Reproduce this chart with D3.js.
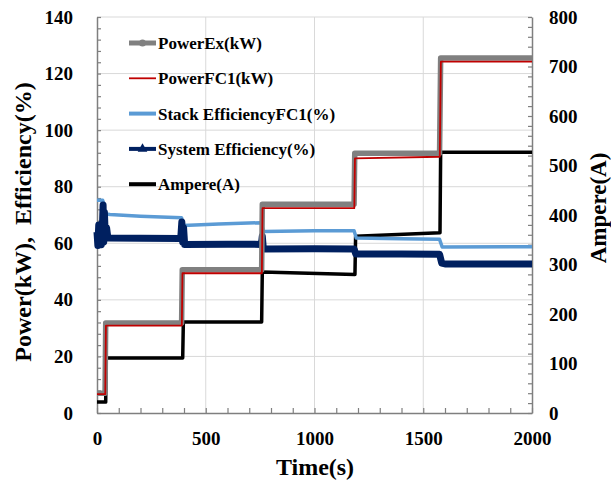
<!DOCTYPE html>
<html>
<head>
<meta charset="utf-8">
<script src="https://cdn.jsdelivr.net/npm/d3@7"></script>
<style>
  body { margin: 0; background: #fff; }
  svg { display: block; }
  text { font-family: "Liberation Serif", "Times New Roman", serif; font-weight: bold; fill: #000; }
</style>
</head>
<body>
<svg id="chart" width="611" height="485"></svg>
<script>
// ---- data: [time (s), value] ----
const powerEx = [[0,7],[37,7],[40,31.8],[389,31.8],[392,50.6],[757,50.6],[760,73.8],[1182,73.8],[1185,91.8],[1575,91.8],[1580,125.5],[2000,125.5]];
const powerFC1 = [[0,6.7],[38,6.7],[41,30.9],[390,30.9],[393,49.4],[758,49.4],[761,72.4],[1183,72.4],[1186,90.0],[1576,90.6],[1581,124.2],[2000,124.2]];
const stackEff = [[0,75.2],[26,75.2],[31,74],[36,70.4],[60,70.2],[200,69.6],[389,69.0],[396,66.3],[560,66.8],[755,67.3],[765,64.2],[1000,64.4],[1182,64.4],[1192,61.9],[1400,61.6],[1575,61.4],[1587,58.7],[2000,58.8]];
const systemEff = [[0,64],[4,59.2],[8,66.5],[12,60.2],[16,65],[20,59.5],[24,63.5],[28,73.5],[31,60.5],[34,71],[38,62.5],[44,65.5],[50,61.9],[200,61.8],[385,61.7],[390,67.5],[394,60.4],[398,65.5],[403,59.6],[600,59.7],[756,59.6],[760,62.5],[765,58.0],[1000,58.1],[1182,58.0],[1190,56.2],[1400,56.2],[1575,56.1],[1585,53.0],[1600,52.7],[2000,52.7]];
const ampere = [[0,22],[40,22],[42,111],[394,111],[397,184],[757,184],[760,285],[1186,280],[1189,357],[1577,364],[1580,527],[2000,527]];

const legendLabels = ["PowerEx(kW)", "PowerFC1(kW)", "Stack EfficiencyFC1(%)", "System Efficiency(%)", "Ampere(A)"];
const xTicks = [0, 500, 1000, 1500, 2000];
const yLeftTicks = [0, 20, 40, 60, 80, 100, 120, 140];
const yRightTicks = [0, 100, 200, 300, 400, 500, 600, 700, 800];

// ---- layout ----
const svg = d3.select("#chart");
const L = 97, R = 532, T = 17, B = 413;
const x = d3.scaleLinear().domain([0, 2000]).range([L, R]);
const yL = d3.scaleLinear().domain([0, 140]).range([B, T]);
const yR = d3.scaleLinear().domain([0, 800]).range([B, T]);

const axisGray = "#7f7f7f";
const gridGray = "#d9d9d9";

// grid
const grid = svg.append("g");
grid.selectAll("line.h").data(yLeftTicks.filter(d => d > 0)).join("line")
  .attr("x1", L).attr("x2", R).attr("y1", d => yL(d)).attr("y2", d => yL(d))
  .attr("stroke", gridGray).attr("stroke-width", 1);
grid.selectAll("line.v").data(xTicks.filter(d => d > 0 && d < 2000)).join("line")
  .attr("x1", d => x(d)).attr("x2", d => x(d)).attr("y1", T).attr("y2", B)
  .attr("stroke", gridGray).attr("stroke-width", 1);

// axes: inward tick marks + separate label axes
function styleAxis(g) {
  g.selectAll(".domain").attr("stroke", axisGray).attr("stroke-width", 1.5);
  g.selectAll(".tick line").attr("stroke", axisGray).attr("stroke-width", 1.2);
}
svg.append("g").attr("transform", `translate(${L},0)`)
  .call(d3.axisLeft(yL).tickValues(d3.range(0, 141, 4)).tickSize(-4).tickSizeOuter(0).tickFormat(""))
  .call(styleAxis);
svg.append("g").attr("transform", `translate(${R},0)`)
  .call(d3.axisRight(yR).tickValues(d3.range(0, 801, 20)).tickSize(-4).tickSizeOuter(0).tickFormat(""))
  .call(styleAxis);
svg.append("g").attr("transform", `translate(0,${B})`)
  .call(d3.axisBottom(x).tickValues(d3.range(0, 2001, 100)).tickSize(-5).tickSizeOuter(0).tickFormat(""))
  .call(styleAxis);

const lblL = svg.append("g").attr("transform", `translate(${L},0)`)
  .call(d3.axisLeft(yL).tickValues(yLeftTicks).tickSize(0).tickPadding(24).tickFormat(d3.format("d")));
const lblR = svg.append("g").attr("transform", `translate(${R},0)`)
  .call(d3.axisRight(yR).tickValues(yRightTicks).tickSize(0).tickPadding(17).tickFormat(d3.format("d")));
const lblB = svg.append("g").attr("transform", `translate(0,${B})`)
  .call(d3.axisBottom(x).tickValues(xTicks).tickSize(0).tickPadding(19).tickFormat(d3.format("d")));
[lblL, lblR, lblB].forEach(g => {
  g.select(".domain").remove();
  g.selectAll("text").attr("font-family", "Liberation Serif, Times New Roman, serif")
    .attr("font-weight", "bold").attr("font-size", 19).attr("fill", "#000");
});

// axis titles
svg.append("text").attr("transform", "translate(31,222) rotate(-90)")
  .attr("text-anchor", "middle").attr("font-size", 24).text("Power(kW),\u00a0\u00a0Efficiency(%)");
svg.append("text").attr("transform", "translate(606,208) rotate(-90)")
  .attr("text-anchor", "middle").attr("font-size", 23).text("Ampere(A)");
svg.append("text").attr("x", 315).attr("y", 475)
  .attr("text-anchor", "middle").attr("font-size", 24).text("Time(s)");

// series lines
const lineL = d3.line().x(d => x(d[0])).y(d => yL(d[1]));
const lineR = d3.line().x(d => x(d[0])).y(d => yR(d[1]));
const plot = svg.append("g");
plot.append("path").datum(ampere).attr("d", lineR)
  .attr("fill", "none").attr("stroke", "#000").attr("stroke-width", 3.5).attr("stroke-linejoin", "round");
plot.append("path").datum(stackEff).attr("d", lineL)
  .attr("fill", "none").attr("stroke", "#5b9bd5").attr("stroke-width", 3.5).attr("stroke-linejoin", "round");
plot.append("path").datum(systemEff).attr("d", lineL)
  .attr("fill", "none").attr("stroke", "#002060").attr("stroke-width", 7).attr("stroke-linejoin", "round");
plot.append("path").datum(powerEx).attr("d", lineL)
  .attr("fill", "none").attr("stroke", "#808080").attr("stroke-width", 5.5).attr("stroke-linejoin", "round");
plot.append("path").datum(powerFC1).attr("d", lineL)
  .attr("fill", "none").attr("stroke", "#c00000").attr("stroke-width", 1.8).attr("stroke-linejoin", "round");

// legend
const legendStyles = [
  { color: "#808080", width: 5, marker: "circle" },
  { color: "#c00000", width: 1.8, marker: null },
  { color: "#5b9bd5", width: 4, marker: null },
  { color: "#002060", width: 4, marker: "triangle" },
  { color: "#000", width: 4, marker: null }
];
const leg = svg.append("g");
legendLabels.forEach((name, i) => {
  const cy = 43 + i * 35.3;
  const s = legendStyles[i];
  leg.append("line").attr("x1", 129).attr("x2", 156).attr("y1", cy).attr("y2", cy)
    .attr("stroke", s.color).attr("stroke-width", s.width);
  if (s.marker === "circle") {
    leg.append("circle").attr("cx", 142.5).attr("cy", cy).attr("r", 3.5).attr("fill", s.color);
  } else if (s.marker === "triangle") {
    leg.append("path").attr("d", d3.symbol(d3.symbolTriangle, 40)())
      .attr("transform", `translate(142.5,${cy})`).attr("fill", s.color);
  }
  leg.append("text").attr("x", 158).attr("y", cy).attr("dy", "0.35em")
    .attr("font-size", 17).text(name);
});
</script>
</body>
</html>
